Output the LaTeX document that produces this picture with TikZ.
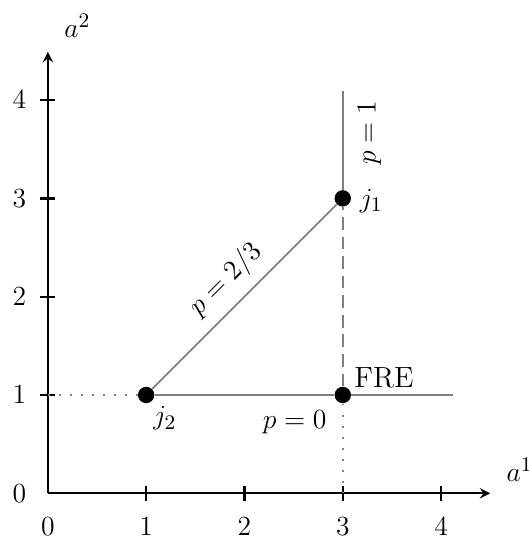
\documentclass[tikz,border=0pt]{standalone}
\begin{document}
\begin{tikzpicture}[x=1.5cm,y=1.5cm,
  every node/.style={font=\fontsize{12.7}{15}\selectfont},
  axis/.style={line width=1pt,-stealth},
  tick/.style={line width=1pt},
  gline/.style={gray,line width=0.8pt},
  dot/.style={circle,fill=black,inner sep=0pt,minimum size=0.25cm}]
\useasboundingbox (-0.487,-0.455) rectangle (4.893,5.018);
% axes
\coordinate (O) at (0,0);
\coordinate (XE) at (4.5,0);
\coordinate (YE) at (0,4.49);
\draw[axis] (O) -- (XE);
\draw[axis] (O) -- (YE);
\node (a1) at (4.8,0.24) {$a^1$};
\node (a2) at (0.3,4.76) {$a^2$};
% ticks
\foreach \i in {1,2,3,4} {
  \draw[tick] (\i,-0.075) -- (\i,0.075);
  \draw[tick] (-0.075,\i) -- (0.075,\i);
  \node (xl\i) at (\i,-0.34) {$\i$};
  \node (yl\i) at (-0.29,\i) {$\i$};
}
\node (xl0) at (0,-0.34) {$0$};
\node (yl0) at (-0.29,0) {$0$};
% points
\node[dot] (j2) at (1,1) {};
\node[dot] (j1) at (3,3) {};
\node[dot] (fre) at (3,1) {};
\coordinate (y1) at (0,1);
\coordinate (xb) at (3,0);
\coordinate (hend) at (4.12,1);
\coordinate (vend) at (3,4.09);
% lines
\draw[gline] (j2) -- (j1);
\draw[gline] (j2) -- (fre);
\draw[gline] (fre) -- (hend);
\draw[gline] (j1) -- (vend);
\draw[gline,dash pattern=on 5.5pt off 3pt] (fre) -- (j1);
\draw[gray,line width=0.8pt,loosely dotted] (y1) -- (j2);
\draw[gray,line width=0.8pt,loosely dotted] (fre) -- (xb);
% labels
\node[rotate=45] (lp23) at (1.81,2.17) {$p=2/3$};
\node (lj1) at (3.29,2.97) {$j_1$};
\node (lj2) at (1.19,0.76) {$j_2$};
\node (lfre) at (3.42,1.17) {FRE};
\node (lp0) at (2.51,0.72) {$p=0$};
\node[rotate=90] (lp1) at (3.27,3.67) {$p=1$};
\end{tikzpicture}
\end{document}
